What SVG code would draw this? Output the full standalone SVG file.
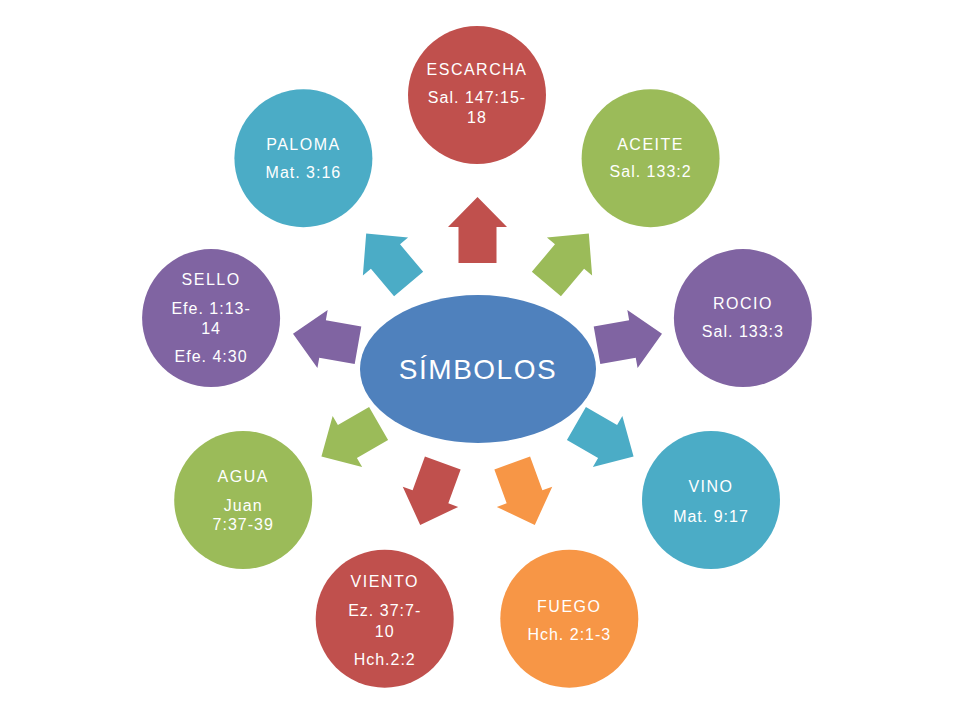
<svg xmlns="http://www.w3.org/2000/svg" width="960" height="720" viewBox="0 0 960 720">
<style>
.t{font-family:"Liberation Sans","DejaVu Sans",sans-serif;fill:#fff;text-anchor:middle;font-size:16px;letter-spacing:1.5px}
.r{letter-spacing:1px}
.red{fill:#C0504D}.green{fill:#9BBB59}.purple{fill:#8064A2}.teal{fill:#4BACC6}.orange{fill:#F79646}
</style>
<defs>
<path id="arr" d="M0,-33 L29.5,-3 L19,-3 L19,33 L-19,33 L-19,-3 L-29.5,-3 Z"/>
</defs>
<rect width="960" height="720" fill="#fff"/>
<g id="connectors">
<use href="#arr" class="red" transform="translate(477.5,230)"/>
<use href="#arr" class="green" transform="translate(567.6,258.8) rotate(40)"/>
<use href="#arr" class="purple" transform="translate(629.5,339.5) rotate(80)"/>
<use href="#arr" class="teal" transform="translate(605,440) rotate(120)"/>
<use href="#arr" class="orange" transform="translate(523.5,494) rotate(160)"/>
<use href="#arr" class="red" transform="translate(431.5,494) rotate(200)"/>
<use href="#arr" class="green" transform="translate(350,440) rotate(240)"/>
<use href="#arr" class="purple" transform="translate(325.5,339.5) rotate(280)"/>
<use href="#arr" class="teal" transform="translate(387.4,258.8) rotate(320)"/>
</g>
<g id="center">
<ellipse cx="478" cy="369" rx="118" ry="74" fill="#4F81BD"/>
<text class="t" x="478" y="379" style="font-size:28px;letter-spacing:1.5px">SÍMBOLOS</text>
</g>
<g id="escarcha">
<circle cx="477" cy="95" r="69" class="red"/>
<text class="t" x="477" y="75">ESCARCHA</text>
<text class="t r" x="477" y="103">Sal. 147:15-</text>
<text class="t r" x="477" y="123">18</text>
</g>
<g id="aceite">
<circle cx="650.6" cy="158.2" r="69" class="green"/>
<text class="t" x="650.6" y="150">ACEITE</text>
<text class="t r" x="650.6" y="177">Sal. 133:2</text>
</g>
<g id="rocio">
<circle cx="742.9" cy="318.1" r="69" class="purple"/>
<text class="t" x="742.9" y="309">ROCIO</text>
<text class="t r" x="742.9" y="337">Sal. 133:3</text>
</g>
<g id="vino">
<circle cx="711" cy="500" r="69" class="teal"/>
<text class="t" x="711" y="492">VINO</text>
<text class="t r" x="711" y="522">Mat. 9:17</text>
</g>
<g id="fuego">
<circle cx="569.3" cy="618.7" r="69" class="orange"/>
<text class="t" x="569.3" y="612">FUEGO</text>
<text class="t r" x="569.3" y="640">Hch. 2:1-3</text>
</g>
<g id="viento">
<circle cx="384.7" cy="618.7" r="69" class="red"/>
<text class="t" x="384.7" y="587">VIENTO</text>
<text class="t r" x="384.7" y="616">Ez. 37:7-</text>
<text class="t r" x="384.7" y="637">10</text>
<text class="t r" x="384.7" y="665">Hch.2:2</text>
</g>
<g id="agua">
<circle cx="243.2" cy="500" r="69" class="green"/>
<text class="t" x="243.2" y="482">AGUA</text>
<text class="t r" x="243.2" y="511">Juan</text>
<text class="t r" x="243.2" y="530">7:37-39</text>
</g>
<g id="sello">
<circle cx="211.1" cy="318.1" r="69" class="purple"/>
<text class="t" x="211.1" y="285">SELLO</text>
<text class="t r" x="211.1" y="314">Efe. 1:13-</text>
<text class="t r" x="211.1" y="334">14</text>
<text class="t r" x="211.1" y="362">Efe. 4:30</text>
</g>
<g id="paloma">
<circle cx="303.4" cy="158.2" r="69" class="teal"/>
<text class="t" x="303.4" y="150">PALOMA</text>
<text class="t r" x="303.4" y="178">Mat. 3:16</text>
</g>
</svg>
